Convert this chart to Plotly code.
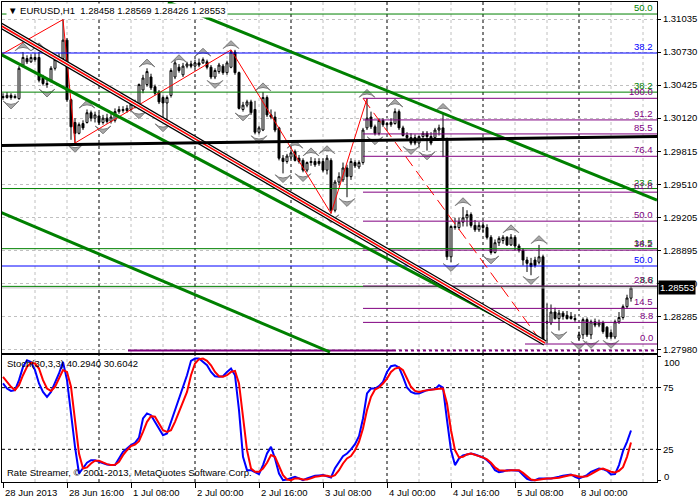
import plotly.graph_objects as go

# ---------------- data ----------------
bars = list(range(158))
opens = [1.3032,1.3031,1.3033,1.3031,1.3030,1.3061,1.3067,1.3064,1.3068,1.3068,
         1.3049,1.3044,1.3047,1.3058,1.3066,1.3067,1.3084,1.3029,1.3008,1.2998,
         1.3007,1.3008,1.3017,1.3012,1.3014,1.3008,1.3012,1.3009,1.3010,1.3018,
         1.3020,1.3019,1.3020,1.3023,1.3022,1.3038,1.3043,1.3050,1.3041,1.3036,
         1.3031,1.3026,1.3033,1.3050,1.3059,1.3052,1.3060,1.3062,1.3060,1.3063,
         1.3063,1.3064,1.3059,1.3050,1.3055,1.3060,1.3054,1.3059,1.3073,1.3054,
         1.3020,1.3024,1.3027,1.3020,1.2999,1.3001,1.3031,1.3015,1.3013,1.3003,
         1.2975,1.2972,1.2976,1.2981,1.2975,1.2973,1.2964,1.2971,1.2972,1.2970,
         1.2972,1.2964,1.2973,1.2927,1.2953,1.2955,1.2966,1.2958,1.2971,1.2967,
         1.2971,1.3003,1.3013,1.3004,1.2998,1.3010,1.3007,1.3006,1.3007,1.3018,
         1.3003,1.2996,1.2994,1.2994,1.2989,1.2995,1.2998,1.2995,1.2994,1.3001,
         1.3003,1.2992,1.2884,1.2912,1.2911,1.2916,1.2920,1.2923,1.2913,1.2909,
         1.2913,1.2911,1.2902,1.2888,1.2897,1.2899,1.2902,1.2895,1.2902,1.2894,
         1.2890,1.2881,1.2878,1.2881,1.2879,1.2884,1.2824,1.2823,1.2833,1.2827,
         1.2832,1.2830,1.2829,1.2827,1.2809,1.2812,1.2826,1.2812,1.2824,1.2821,
         1.2823,1.2819,1.2814,1.2810,1.2824,1.2828,1.2838,1.28458]
highs = [1.3035,1.3036,1.3035,1.3034,1.3060,1.3073,1.3070,1.3071,1.3072,1.3073,
         1.3052,1.3048,1.3060,1.3067,1.3072,1.3103,1.3086,1.3030,1.3012,1.3008,
         1.3010,1.3020,1.3019,1.3018,1.3017,1.3015,1.3016,1.3016,1.3021,1.3023,
         1.3023,1.3024,1.3028,1.3029,1.3044,1.3052,1.3058,1.3053,1.3043,1.3038,
         1.3033,1.3033,1.3058,1.3066,1.3062,1.3063,1.3064,1.3065,1.3066,1.3067,
         1.3068,1.3066,1.3061,1.3058,1.3063,1.3062,1.3065,1.3075,1.3075,1.3055,
         1.3027,1.3029,1.3029,1.3028,1.3005,1.3036,1.3033,1.3020,1.3018,1.3004,
         1.2978,1.2979,1.2983,1.2983,1.2978,1.2975,1.2972,1.2976,1.2975,1.2975,
         1.2975,1.2978,1.2975,1.2955,1.2962,1.2971,1.2969,1.2975,1.2973,1.2973,
         1.3003,1.3030,1.3018,1.3006,1.3012,1.3012,1.3008,1.3012,1.3021,1.3020,
         1.3005,1.2999,1.2998,1.2997,1.2996,1.3000,1.3000,1.2999,1.3003,1.3006,
         1.3017,1.2994,1.2913,1.2920,1.2920,1.2930,1.2927,1.2925,1.2918,1.2916,
         1.2916,1.2914,1.2904,1.2900,1.2903,1.2904,1.2903,1.2905,1.2904,1.2896,
         1.2892,1.2884,1.2883,1.2884,1.2895,1.2886,1.2841,1.2840,1.2837,1.2835,
         1.2834,1.2834,1.2833,1.2831,1.2815,1.2828,1.2828,1.2826,1.2827,1.2826,
         1.2825,1.2820,1.2817,1.2826,1.2833,1.2840,1.2849,1.28569]
lows = [1.3029,1.3030,1.3029,1.3030,1.3029,1.3059,1.3062,1.3063,1.3064,1.3045,
        1.3042,1.3040,1.3045,1.3056,1.3064,1.3066,1.3027,1.2992,1.2989,1.2997,
        1.3001,1.3007,1.3009,1.3008,1.3006,1.3006,1.3007,1.3007,1.3008,1.3016,
        1.3017,1.3017,1.3018,1.3021,1.3020,1.3035,1.3041,1.3038,1.3033,1.3025,
        1.3008,1.3010,1.3031,1.3048,1.3054,1.3050,1.3058,1.3058,1.3058,1.3059,
        1.3062,1.3057,1.3048,1.3048,1.3053,1.3052,1.3052,1.3058,1.3052,1.3020,
        1.3018,1.3022,1.3015,1.2997,1.2997,1.3000,1.3013,1.3011,1.2999,1.2973,
        1.2961,1.2970,1.2974,1.2972,1.2970,1.2962,1.2962,1.2968,1.2967,1.2968,
        1.2962,1.2960,1.2924,1.2925,1.2950,1.2953,1.2939,1.2955,1.2966,1.2965,
        1.2969,1.3001,1.3002,1.2996,1.2996,1.3004,1.3003,1.3004,1.3006,1.3001,
        1.2995,1.2992,1.2987,1.2987,1.2985,1.2993,1.2982,1.2987,1.2992,1.2996,
        1.2976,1.2881,1.2879,1.2909,1.2909,1.2912,1.2912,1.2911,1.2907,1.2907,
        1.2907,1.2900,1.2886,1.2887,1.2894,1.2896,1.2894,1.2894,1.2890,1.2888,
        1.2876,1.2870,1.2867,1.2874,1.2877,1.2803,1.2804,1.2821,1.2826,1.2816,
        1.2826,1.2826,1.2826,1.2824,1.2807,1.2808,1.2810,1.2808,1.2819,1.2819,
        1.2813,1.2808,1.2808,1.2808,1.2822,1.2826,1.2836,1.28426]
closes = [1.3031,1.3033,1.3031,1.3032,1.3058,1.3068,1.3064,1.3068,1.3066,1.3047,
          1.3044,1.3043,1.3058,1.3066,1.3068,1.3084,1.3029,1.3004,1.2998,1.3006,
          1.3003,1.3017,1.3012,1.3015,1.3008,1.3012,1.3009,1.3013,1.3018,1.3020,
          1.3019,1.3021,1.3025,1.3026,1.3043,1.3049,1.3055,1.3040,1.3035,1.3027,
          1.3026,1.3031,1.3056,1.3063,1.3056,1.3060,1.3062,1.3060,1.3063,1.3061,
          1.3066,1.3059,1.3050,1.3056,1.3061,1.3054,1.3063,1.3073,1.3054,1.3021,
          1.3024,1.3027,1.3017,1.2999,1.3003,1.3031,1.3015,1.3013,1.3001,1.2975,
          1.2972,1.2977,1.2980,1.2973,1.2972,1.2964,1.2971,1.2972,1.2969,1.2972,
          1.2964,1.2975,1.2927,1.2953,1.2958,1.2966,1.2958,1.2972,1.2968,1.2971,
          1.3001,1.3012,1.3004,1.2998,1.3010,1.3006,1.3006,1.3008,1.3018,1.3003,
          1.2996,1.2994,1.2989,1.2989,1.2995,1.2998,1.2995,1.2989,1.3001,1.3003,
          1.2992,1.2884,1.2912,1.2911,1.2916,1.2920,1.2923,1.2913,1.2909,1.2913,
          1.2911,1.2902,1.2888,1.2897,1.2901,1.2902,1.2895,1.2902,1.2894,1.2890,
          1.2881,1.2878,1.2875,1.2876,1.2884,1.2805,1.2823,1.2833,1.2827,1.2832,
          1.2829,1.2827,1.2827,1.2826,1.2812,1.2826,1.2812,1.2824,1.2821,1.2823,
          1.2815,1.2810,1.2810,1.2824,1.2828,1.2838,1.2846,1.28553]

stoch_main = [78.4,74.3,72.4,73.0,81.1,91.9,97.3,95.9,89.2,78.4,
              71.6,67.6,71.6,78.4,86.5,95.9,81.1,54.1,27.0,5.4,
              9.5,14.1,16.2,16.2,14.9,13.5,12.7,12.2,12.2,17.6,
              23.0,25.7,28.4,30.3,34.6,50.0,54.1,52.7,47.3,41.9,
              36.5,37.8,47.3,55.4,64.9,75.7,85.1,96.8,98.6,98.6,
              95.9,93.2,87.8,84.3,83.8,84.3,87.8,90.5,85.1,56.8,
              18.9,8.1,8.1,6.8,4.9,12.2,21.6,27.0,17.6,5.4,
              0.0,0.5,1.9,2.7,1.4,0.0,1.4,2.7,3.5,3.8,
              4.1,3.2,2.2,9.7,14.1,19.5,21.6,24.9,29.2,35.7,
              50.0,70.3,74.3,74.3,76.2,79.7,87.8,92.4,93.2,91.4,
              83.8,75.1,71.6,70.3,70.3,71.6,73.0,73.5,73.8,77.0,
              75.1,48.6,24.3,12.2,17.6,20.0,21.1,21.6,20.8,19.5,
              18.4,16.2,13.0,8.1,6.5,7.0,8.1,8.1,8.1,7.6,
              4.1,1.1,0.0,0.0,1.4,1.1,1.4,1.4,1.9,2.7,
              3.5,4.3,4.6,2.7,1.4,2.7,4.1,6.8,8.1,9.5,
              8.9,7.6,4.6,4.9,12.2,23.5,31.1,40.294]
stoch_signal = [83.8,79.7,75.7,73.0,77.0,85.1,91.9,95.1,94.6,90.5,
                81.1,74.3,72.4,75.7,82.4,89.2,87.8,75.7,48.6,21.6,
                9.5,10.3,13.5,15.7,15.7,14.1,13.0,12.2,12.4,14.9,
                20.3,24.3,27.6,28.9,31.6,39.2,47.3,51.9,51.4,45.9,
                40.5,39.2,40.5,47.3,55.4,64.9,71.6,85.1,94.6,98.1,
                98.6,96.8,93.2,87.8,84.3,83.8,85.1,87.8,88.6,78.4,
                51.4,24.3,9.5,6.8,6.8,9.5,14.1,20.3,18.9,12.2,
                4.1,0.5,0.0,1.4,1.4,0.5,0.5,1.4,2.7,3.2,
                3.8,3.5,2.7,4.1,8.1,13.5,17.6,19.5,24.3,31.1,
                41.9,56.8,67.6,73.5,75.1,78.4,82.4,87.8,90.5,91.4,
                89.2,82.4,75.7,72.4,71.6,72.4,73.0,73.5,73.8,74.1,
                74.3,62.2,40.5,24.3,18.4,18.9,20.8,21.6,20.8,19.5,
                18.4,16.8,14.1,10.3,8.1,7.6,7.6,8.1,8.1,8.1,
                5.9,3.2,0.5,0.0,0.5,1.1,1.4,1.4,1.4,1.9,
                2.7,3.5,4.1,3.8,2.7,2.7,3.2,4.9,6.8,8.6,
                9.5,8.1,6.8,6.2,7.6,10.5,18.9,30.604]

time_tick_bars = [0, 16, 32, 48, 64, 80, 96, 112, 128, 144]
time_tick_labels = ["28 Jun 2013", "28 Jun 16:00", "1 Jul 08:00", "2 Jul 00:00",
                    "2 Jul 16:00", "3 Jul 08:00", "4 Jul 00:00", "4 Jul 16:00",
                    "5 Jul 08:00", "8 Jul 00:00"]
separator_bars = [24, 48, 72, 96, 120, 144]
grid_bars = list(range(8, 164, 8))
price_ticks = [1.31035, 1.30730, 1.30425, 1.30120, 1.29815, 1.29510,
               1.29205, 1.28895, 1.28590, 1.28285, 1.27980]
price_tick_labels = ["1.31035", "1.30730", "1.30425", "1.30120", "1.29815", "1.29510",
                     "1.29205", "1.28895", "1.28590", "1.28285", "1.27980"]
stoch_levels = [75, 25]

fractal_up_bars = [5, 9, 21, 36, 44, 50, 57, 65, 73, 77, 81, 91, 98, 110, 115, 127, 134]
fractal_down_bars = [2, 11, 18, 25, 34, 40, 53, 60, 64, 70, 75, 82, 86, 93, 102, 106,
                     112, 122, 132, 139, 144, 147, 152]

zigzag_bars = [-0.75, 15, 18, 57, 82, 91]
zigzag_prices = [1.3070, 1.3103, 1.2989, 1.3075, 1.2924, 1.3030]

fib_purple_bars = [90, 135]
fib_purple_prices = [1.30303, 1.28035]
fib_purple_levels = [0.0, 8.8, 14.5, 23.6, 38.2, 50.0, 61.8, 76.4, 85.5, 91.2, 100.0]
fib_purple_zero_start = 130.5

fib_green_levels = [8.8, 14.5, 23.6, 38.2, 50.0]
fib_green_prices = [1.28567, 1.28915, 1.29470, 1.30360, 1.31081]
fib_blue_levels = [38.2, 50.0]
fib_blue_prices = [1.30721, 1.28755]

black_red_bars = [-0.75, 135.5]
black_red_prices = [1.30979, 1.28044]
green_mid_bars = [-0.75, 135.5]
green_mid_prices = [1.30712, 1.28053]
green_low_bars = [-0.75, 81.75]
green_low_prices = [1.29254, 1.27961]
green_up_bars = [41.25, 163.5]
green_up_prices = [1.31192, 1.29364]
black_trend_bars = [-0.25, 163.5]
black_trend_prices = [1.29867, 1.29950]
purple_bottom_solid_bars = [31.25, 97.5]
purple_bottom_dash_bars = [97.5, 163.5]
purple_bottom_price = 1.27975

bid_price = 1.28553
header = "▼ EURUSD,H1  1.28458 1.28569 1.28426 1.28553"
stoch_title = "Stoch(30,3,3) 40.2940 30.6042"
copyright_text = "Rate Streamer, © 2001-2013, MetaQuotes Software Corp."

# ---------------- figure ----------------
FONT = "Liberation Sans, Arial, DejaVu Sans"
FS = 9.5
GREEN = "#008000"
PURPLE = "#800080"
BLUE = "#0000FF"
X_RANGE = [-0.25, 163.5]

fig = go.Figure()

# candles
fig.add_trace(go.Candlestick(
    x=bars, open=opens, high=highs, low=lows, close=closes,
    increasing=dict(line=dict(color="black", width=1), fillcolor="white"),
    decreasing=dict(line=dict(color="black", width=1), fillcolor="black"),
    whiskerwidth=0, hoverinfo="skip", showlegend=False, xaxis="x", yaxis="y"))

# fractals
fig.add_trace(go.Scatter(
    x=fractal_up_bars, y=[highs[i] + 0.00085 for i in fractal_up_bars],
    mode="markers", marker=dict(symbol="arrow-wide", size=11, angle=0, color="#A8A8A8",
                                line=dict(color="#7A7A7A", width=1)),
    hoverinfo="skip", showlegend=False, xaxis="x", yaxis="y"))
fig.add_trace(go.Scatter(
    x=fractal_down_bars, y=[lows[i] - 0.00085 for i in fractal_down_bars],
    mode="markers", marker=dict(symbol="arrow-wide", size=11, angle=180, color="#A8A8A8",
                                line=dict(color="#7A7A7A", width=1)),
    hoverinfo="skip", showlegend=False, xaxis="x", yaxis="y"))

# zigzag
fig.add_trace(go.Scatter(x=zigzag_bars, y=zigzag_prices, mode="lines",
                         line=dict(color="red", width=1), hoverinfo="skip",
                         showlegend=False, xaxis="x", yaxis="y"))

def hline(x0, x1, y, color, width=1, dash="solid"):
    fig.add_trace(go.Scatter(x=[x0, x1], y=[y, y], mode="lines",
                             line=dict(color=color, width=width, dash=dash),
                             hoverinfo="skip", showlegend=False, xaxis="x", yaxis="y"))

def seg(xs, ys, color, width, dash="solid"):
    fig.add_trace(go.Scatter(x=xs, y=ys, mode="lines",
                             line=dict(color=color, width=width, dash=dash),
                             hoverinfo="skip", showlegend=False, xaxis="x", yaxis="y"))

# bid line
hline(X_RANGE[0], X_RANGE[1], bid_price, "#C0C0C0", 1)

# green fib levels (full width)
for lv, p in zip(fib_green_levels, fib_green_prices):
    hline(X_RANGE[0], X_RANGE[1], p, GREEN, 1)
# blue fib levels
for lv, p in zip(fib_blue_levels, fib_blue_prices):
    hline(X_RANGE[0], X_RANGE[1], p, BLUE, 1)
# purple fib levels
p_hi, p_lo = fib_purple_prices
purple_prices = [p_lo + lv / 100.0 * (p_hi - p_lo) for lv in fib_purple_levels]
for lv, p in zip(fib_purple_levels, purple_prices):
    start = fib_purple_zero_start if lv == 0.0 else fib_purple_bars[0]
    hline(start, X_RANGE[1], p, PURPLE, 1)
# purple fib anchor line (red dashed)
seg(fib_purple_bars, fib_purple_prices, "red", 1, "12px,6px")

# bottom purple line
hline(purple_bottom_solid_bars[0], purple_bottom_solid_bars[1], purple_bottom_price, PURPLE, 2)
hline(purple_bottom_dash_bars[0], purple_bottom_dash_bars[1], purple_bottom_price, PURPLE, 2, "3px,3px")

# channel lines
seg(green_up_bars, green_up_prices, GREEN, 3)
seg(green_mid_bars, green_mid_prices, GREEN, 3)
seg(green_low_bars, green_low_prices, GREEN, 3)
seg(black_red_bars, black_red_prices, "black", 6)
seg(black_red_bars, black_red_prices, "white", 3.5)
seg(black_red_bars, black_red_prices, "red", 1.6)
seg(black_trend_bars, black_trend_prices, "black", 3)

# stochastic
fig.add_trace(go.Scatter(x=bars, y=stoch_main, mode="lines",
                         line=dict(color=BLUE, width=2), hoverinfo="skip",
                         showlegend=False, xaxis="x2", yaxis="y2"))
fig.add_trace(go.Scatter(x=bars, y=stoch_signal, mode="lines",
                         line=dict(color="red", width=2), hoverinfo="skip",
                         showlegend=False, xaxis="x2", yaxis="y2"))

shapes = []
for b in grid_bars:
    if b in separator_bars:
        continue
    for yr in ["y domain", "y2 domain"]:
        shapes.append(dict(type="line", xref="x", yref=yr, x0=b, x1=b, y0=0, y1=1,
                           line=dict(color="#C0C0C0", width=1, dash="3px,3px"), layer="below"))
for b in separator_bars:
    for yr in ["y domain", "y2 domain"]:
        shapes.append(dict(type="line", xref="x", yref=yr, x0=b, x1=b, y0=0, y1=1,
                           line=dict(color="black", width=1, dash="3px,3px"), layer="below"))
for lv in stoch_levels:
    shapes.append(dict(type="line", xref="x2 domain", yref="y2", x0=0, x1=1, y0=lv, y1=lv,
                       line=dict(color="black", width=1, dash="3px,3px"), layer="below"))

annotations = []
def label(text, price, color):
    annotations.append(dict(text=text, x=1, xref="paper", xanchor="right", xshift=-2,
                            y=price, yref="y", yanchor="bottom", yshift=-1, showarrow=False,
                            font=dict(family=FONT, size=FS, color=color)))
for lv, p in zip(fib_green_levels, fib_green_prices):
    label(f"{lv:.1f}", p, GREEN)
for lv, p in zip(fib_blue_levels, fib_blue_prices):
    label(f"{lv:.1f}", p, BLUE)
for lv, p in zip(fib_purple_levels, purple_prices):
    label(f"{lv:.1f}", p, PURPLE)

for b, t in zip(time_tick_bars, time_tick_labels):
    annotations.append(dict(text=t, x=b, xref="x2", xanchor="left", xshift=0,
                            y=-0.021, yref="paper", yanchor="middle", showarrow=False,
                            font=dict(family=FONT, size=FS, color="black")))
annotations.append(dict(text=header, x=0, xref="paper", xanchor="left", xshift=4,
                        y=1, yref="paper", yanchor="top", yshift=-1, showarrow=False,
                        bgcolor="white", borderpad=1,
                        font=dict(family=FONT, size=FS, color="black")))
annotations.append(dict(text=stoch_title, x=0, xref="paper", xanchor="left", xshift=3,
                        y=0.262, yref="paper", yanchor="top", showarrow=False,
                        font=dict(family=FONT, size=FS, color="black")))
annotations.append(dict(text=copyright_text, x=0, xref="paper", xanchor="left", xshift=3,
                        y=0.004, yref="paper", yanchor="bottom", showarrow=False,
                        font=dict(family=FONT, size=FS, color="black")))
annotations.append(dict(text="100", x=1, xref="paper", xanchor="left", xshift=5,
                        y=0.25, yref="paper", yanchor="middle", showarrow=False,
                        font=dict(family=FONT, size=FS, color="black")))
annotations.append(dict(text="0", x=1, xref="paper", xanchor="left", xshift=5,
                        y=0.0125, yref="paper", yanchor="middle", showarrow=False,
                        font=dict(family=FONT, size=FS, color="black")))
annotations.append(dict(text=f"{bid_price:.5f}", x=1, xref="paper", xanchor="left", xshift=1,
                        y=bid_price, yref="y", yanchor="middle", showarrow=False,
                        bgcolor="black", borderpad=1,
                        font=dict(family=FONT, size=FS, color="white")))

axis_common = dict(showline=True, mirror=True, linecolor="black", linewidth=1,
                   zeroline=False, automargin=False)

fig.update_layout(
    template="none",
    width=700, height=500,
    margin=dict(l=2, r=43, t=2, b=18, pad=0),
    paper_bgcolor="white", plot_bgcolor="white",
    showlegend=False,
    xaxis=dict(domain=[0, 1], range=X_RANGE, anchor="y", showticklabels=False,
               ticks="", showgrid=False, rangeslider=dict(visible=False), **axis_common),
    yaxis=dict(domain=[0.26875, 1], range=[1.27952, 1.31192], side="right", anchor="x",
               tickmode="array", tickvals=price_ticks, ticktext=price_tick_labels,
               ticks="outside", ticklen=3, tickcolor="black",
               tickfont=dict(family=FONT, size=FS, color="black"),
               showgrid=True, gridcolor="#C0C0C0", griddash="3px,3px", gridwidth=1,
               **axis_common),
    xaxis2=dict(domain=[0, 1], range=X_RANGE, anchor="y2", showticklabels=False,
                tickmode="array", tickvals=time_tick_bars, ticks="outside", ticklen=5,
                tickcolor="black", showgrid=False, **axis_common),
    yaxis2=dict(domain=[0, 0.26458], range=[-1.5, 101.5], side="right", anchor="x2",
                tickmode="array", tickvals=[100, 75, 25, 0], ticktext=["", "75", "25", ""],
                ticks="outside", ticklen=3, tickcolor="black",
                tickfont=dict(family=FONT, size=FS, color="black"),
                showgrid=False, **axis_common),
    shapes=shapes,
    annotations=annotations,
)

fig.write_html("out.html", config={"displayModeBar": False},
               post_script="document.body.style.margin='0px';")
